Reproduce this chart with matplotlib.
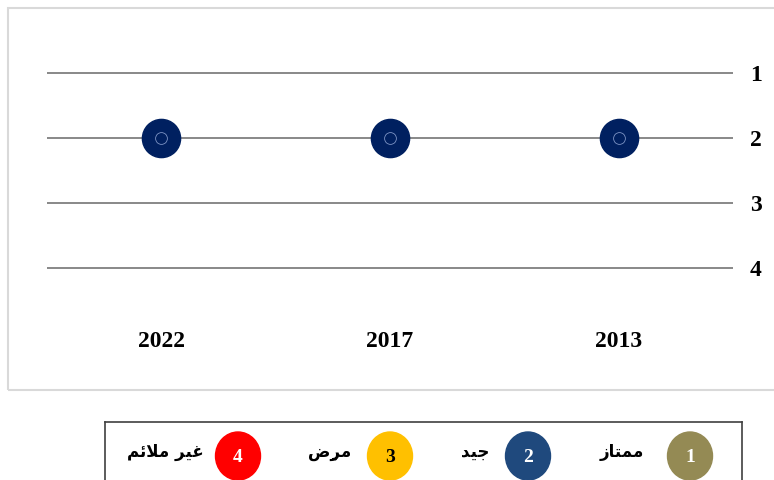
import matplotlib
matplotlib.use("Agg")
import matplotlib.pyplot as plt
from matplotlib.patches import Rectangle, Ellipse

# data
years = ["2022", "2017", "2013"]
ratings = [2, 2, 2]
levels = [1, 2, 3, 4]

# legend (Arabic written in presentation forms, visual order, since matplotlib has no shaping)
legend_nums = ["1", "2", "3", "4"]
legend_labels = [
    "\uFEAF\uFE8E\uFE98\uFEE4\uFEE3",                       # ممتاز
    "\uFEAA\uFEF4\uFE9F",                                   # جيد
    "\uFEBD\u064D\uFEAE\uFEE3",                             # مرضٍ
    "\uFEE2\uFE8B\uFEFC\uFEE3 \uFEAE\uFEF4\uFECF",          # غير ملائم
]
legend_colors = ["#948A54", "#1F497D", "#FFC000", "#FF0000"]
legend_numcolors = ["white", "white", "black", "white"]

W, H = 774, 480
fig = plt.figure(figsize=(W / 100, H / 100), dpi=100)
fig.patch.set_facecolor("white")

def px(x0, y0, x1, y1):
    return [x0 / W, 1 - y1 / H, (x1 - x0) / W, (y1 - y0) / H]

# outer chart frame
fig.patches.append(Rectangle((8 / W, 1 - 390 / H), 780 / W, 382 / H,
                             transform=fig.transFigure, fill=False,
                             edgecolor="#D9D9D9", lw=1.5))

ax = fig.add_axes(px(47, 8, 733, 305))
x = list(range(len(years)))
for lv in levels:
    ax.axhline(lv, color="#7F7F7F", lw=1.3, zorder=1)
ax.plot(x, ratings, "o", ms=27.5, color="#002060", zorder=3, ls="none")
ax.plot(x, ratings, "o", ms=8.5, mfc="none", mec="#7D93C4", mew=0.6, zorder=4, ls="none")

ax.set_xlim(-0.5, 2.5)
ax.set_ylim(4 + 37 / 65, 0)
ax.set_xticks(x)
ax.set_xticklabels(years)
ax.set_yticks(levels)
ax.set_yticklabels([str(v) for v in levels])
ax.yaxis.tick_right()
ax.tick_params(length=0, labelsize=17)
ax.tick_params(axis="x", pad=19)
ax.tick_params(axis="y", pad=12)
for lab in ax.get_xticklabels() + ax.get_yticklabels():
    lab.set_fontfamily("Liberation Serif")
    lab.set_fontweight("bold")
for s in ax.spines.values():
    s.set_visible(False)
ax.patch.set_alpha(0)

# legend box
lax = fig.add_axes(px(105, 422, 742, 500))
lax.set_xlim(105, 742)
lax.set_ylim(500, 422)
lax.set_xticks([])
lax.set_yticks([])
for s in lax.spines.values():
    s.set_edgecolor("#404040")
    s.set_linewidth(1.2)
circ_x = [690, 528, 390, 238]
text_x = [622, 475, 330, 165]
for cx, tx, num, lab, c, nc in zip(circ_x, text_x, legend_nums, legend_labels,
                                   legend_colors, legend_numcolors):
    lax.add_patch(Ellipse((cx, 456), 45, 48, color=c))
    lax.text(cx, 457, num, ha="center", va="center", color=nc, fontsize=14,
             fontweight="bold", family="Liberation Serif")
    lax.text(tx, 452, lab, ha="center", va="center", fontsize=12,
             fontweight="bold", family="DejaVu Sans")

fig.savefig("out.png", dpi=100)
